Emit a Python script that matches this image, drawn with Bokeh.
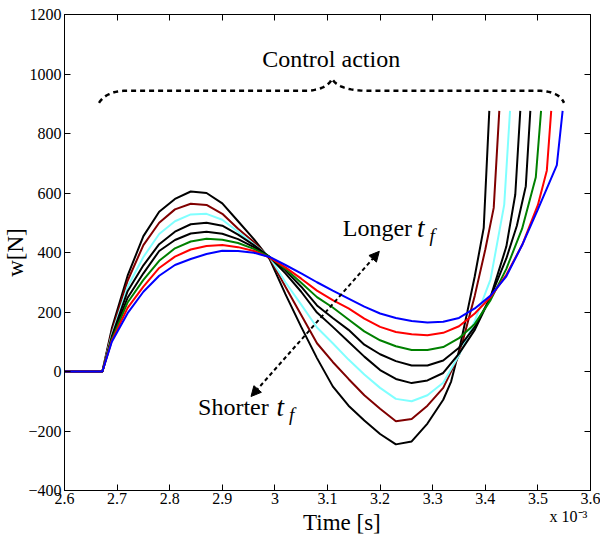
import numpy as np
from bokeh.plotting import figure
from bokeh.models import Range1d, LinearAxis, FixedTicker, Label, Arrow, NormalHead
from bokeh.embed import file_html
from bokeh.resources import INLINE

SERIF = "Liberation Serif"
NB = "\u00a0"

# ---- axes / ticks (x in units of 1e-3 s) ----
x_ticks = [2.6, 2.7, 2.8, 2.9, 3.0, 3.1, 3.2, 3.3, 3.4, 3.5, 3.6]
x_tick_labels = ["2.6", "2.7", "2.8", "2.9", "3", "3.1", "3.2", "3.3", "3.4", "3.5", "3.6"]
y_ticks = [-400, -200, 0, 200, 400, 600, 800, 1000, 1200]
y_tick_labels = ["\u2212400", "\u2212200", "0", "200", "400", "600", "800", "1000", "1200"]
x_label = NB * 5 + "Time [s]"
y_label = "w[N]"
x_scale_pos = [3.558]
x_scale_text = ["x 10\u207b\u00b3"]

# ---- data: shared time grid (ms) then per-curve tails ----
t_common = [2.60, 2.672, 2.69, 2.72, 2.75, 2.78, 2.81, 2.84, 2.87, 2.90, 2.93, 2.96,
            2.99, 3.02, 3.05, 3.08, 3.11, 3.14, 3.17, 3.20, 3.23, 3.26, 3.29, 3.32]

w_c1 = [0, 0, 145, 322, 455, 537, 580, 605, 600, 565, 505, 445,
        378, 260, 150, 45, -50, -115, -165, -210, -245, -235, -175, -95]
tail_t_c1 = [3.335, 3.35, 3.366, 3.38, 3.397, 3.4076]
tail_w_c1 = [-34, 70, 202, 320, 483, 876]

w_c2 = [0, 0, 135, 305, 425, 500, 545, 564, 560, 530, 480, 435,
        382, 285, 190, 95, 32, -25, -80, -125, -167, -160, -115, -55]
tail_t_c2 = [3.35, 3.38, 3.40, 3.416, 3.4266]
tail_w_c2 = [55, 255, 410, 550, 876]

w_c3 = [0, 0, 125, 285, 385, 462, 505, 528, 530, 510, 470, 428,
        385, 300, 225, 148, 95, 40, -10, -55, -92, -100, -80, -38]
tail_t_c3 = [3.35, 3.38, 3.41, 3.436, 3.447]
tail_w_c3 = [55, 170, 310, 561, 876]

w_c4 = [0, 0, 118, 270, 357, 428, 470, 495, 500, 490, 460, 425,
        385, 330, 268, 198, 150, 100, 50, 5, -25, -39, -30, -5]
tail_t_c4 = [3.35, 3.38, 3.41, 3.44, 3.457, 3.4665]
tail_w_c4 = [60, 140, 250, 420, 595, 876]

w_c5 = [0, 0, 112, 248, 330, 405, 442, 464, 470, 463, 445, 418,
        385, 340, 285, 222, 180, 140, 90, 58, 35, 20, 20, 37]
tail_t_c5 = [3.35, 3.38, 3.41, 3.44, 3.46, 3.477, 3.4856]
tail_w_c5 = [80, 150, 250, 380, 490, 623, 876]

w_c6 = [0, 0, 108, 232, 308, 372, 414, 437, 446, 443, 432, 412,
        385, 345, 298, 250, 215, 175, 135, 105, 85, 72, 72, 82]
tail_t_c6 = [3.35, 3.38, 3.41, 3.44, 3.47, 3.496, 3.506]
tail_w_c6 = [112, 160, 240, 345, 480, 653, 876]

w_c7 = [0, 0, 104, 214, 285, 348, 386, 410, 422, 425, 418, 405,
        383, 350, 312, 272, 240, 212, 178, 150, 133, 125, 122, 130]
tail_t_c7 = [3.35, 3.38, 3.41, 3.44, 3.47, 3.50, 3.517, 3.5253]
tail_w_c7 = [152, 195, 250, 325, 425, 560, 676, 876]

w_c8 = [0, 0, 100, 196, 268, 322, 358, 378, 395, 406, 405, 399,
        385, 358, 330, 300, 272, 245, 218, 195, 180, 170, 165, 167]
tail_t_c8 = [3.35, 3.38, 3.41, 3.44, 3.47, 3.50, 3.536, 3.547]
tail_w_c8 = [180, 212, 255, 320, 425, 545, 694, 876]

colors = ["#000000", "#800000", "#80ffff", "#000000", "#000000", "#008000", "#ff0000", "#0000ff"]

curves = [
    (w_c1, tail_t_c1, tail_w_c1),
    (w_c2, tail_t_c2, tail_w_c2),
    (w_c3, tail_t_c3, tail_w_c3),
    (w_c4, tail_t_c4, tail_w_c4),
    (w_c5, tail_t_c5, tail_w_c5),
    (w_c6, tail_t_c6, tail_w_c6),
    (w_c7, tail_t_c7, tail_w_c7),
    (w_c8, tail_t_c8, tail_w_c8),
]

p = figure(width=600, height=538,
           x_range=Range1d(2.6, 3.6), y_range=Range1d(-400, 1200),
           output_backend="svg", toolbar_location=None,
           min_border_left=64, min_border_right=10,
           min_border_top=14, min_border_bottom=48)
p.background_fill_color = "white"
p.border_fill_color = "white"
p.outline_line_color = "black"
p.outline_line_width = 1
p.xgrid.visible = False
p.ygrid.visible = False

p.add_layout(LinearAxis(), "right")
p.add_layout(LinearAxis(), "above")
sec = LinearAxis()
p.add_layout(sec, "below")

for ax in p.xaxis:
    ax.ticker = FixedTicker(ticks=x_ticks)
    ax.major_label_overrides = dict(zip(x_ticks, x_tick_labels))
for ax in p.yaxis:
    ax.ticker = FixedTicker(ticks=y_ticks)
    ax.major_label_overrides = dict(zip(y_ticks, y_tick_labels))

for ax in p.axis:
    ax.major_tick_in = 6
    ax.major_tick_out = 0
    ax.minor_tick_line_color = None
    ax.axis_line_color = "black"
    ax.major_tick_line_color = "black"
    ax.major_label_text_font = SERIF
    ax.major_label_text_font_size = "16px"
    ax.major_label_text_color = "black"
    ax.axis_label_text_font = SERIF
    ax.axis_label_text_font_size = "23px"
    ax.axis_label_text_font_style = "normal"
    ax.axis_label_text_color = "black"

for ax in [p.right[0], p.above[0]]:
    ax.major_label_text_font_size = "1px"
    ax.major_label_text_color = None
    ax.major_label_standoff = 0

# primary bottom axis: tick labels only
p.below[0].major_label_standoff = 2

# secondary bottom axis: exponent note + axis title, no line / ticks
sec.ticker = FixedTicker(ticks=x_scale_pos)
sec.major_label_overrides = dict(zip(x_scale_pos, x_scale_text))
sec.axis_line_color = None
sec.major_tick_line_color = None
sec.major_tick_in = 0
sec.major_label_text_font_size = "16px"
sec.major_label_standoff = 1
sec.axis_label = x_label
sec.axis_label_standoff = -18

ly_ax = p.left[0]
ly_ax.major_label_standoff = 3
ly_ax.axis_label = y_label
ly_ax.axis_label_standoff = -3

for (w, tt, tw), c in zip(curves, colors):
    p.line(t_common + tt, w + tw, line_color=c, line_width=2)

# ---- dashed curly brace ("Control action") ----
def quad(p0, c, p1, n=20):
    s = np.linspace(0, 1, n)
    x = (1 - s) ** 2 * p0[0] + 2 * (1 - s) * s * c[0] + s ** 2 * p1[0]
    y = (1 - s) ** 2 * p0[1] + 2 * (1 - s) * s * c[1] + s ** 2 * p1[1]
    return list(x), list(y)

bx, by = [], []
for seg in [((2.6656, 903), (2.68, 944), (2.7207, 944)),
            ((2.7207, 944), (2.90, 944), (3.0648, 944)),
            ((3.0648, 944), (3.10, 950), (3.1086, 984)),
            ((3.1086, 984), (3.12, 948), (3.1675, 944)),
            ((3.1675, 944), (3.33, 944), (3.4964, 944)),
            ((3.4964, 944), (3.54, 944), (3.5496, 903))]:
    x, y = quad(*seg)
    bx += x
    by += y
p.line(bx, by, line_color="black", line_width=2.5, line_dash="5 4")

# ---- double dashed arrow ----
p.add_layout(Arrow(x_start=2.9546, y_start=-84, x_end=3.1985, y_end=404,
                   start=NormalHead(size=10, fill_color="black", line_color="black"),
                   end=NormalHead(size=10, fill_color="black", line_color="black"),
                   line_color="black", line_width=2, line_dash="4 3"))

def lab(x, y, text, size="24px", style="normal", align="left", baseline="alphabetic"):
    p.add_layout(Label(x=x, y=y, text=text, text_font=SERIF, text_font_size=size,
                       text_font_style=style, text_align=align, text_baseline=baseline,
                       text_color="black"))

lab(3.107, 1050, "Control action", align="center")
lab(3.129, 483, "Longer")
lab(3.270, 483, "t", size="27px", style="italic")
lab(3.294, 458, "f", size="19px", style="italic")
lab(2.854, -120, "Shorter")
lab(3.003, -120, "t", size="27px", style="italic")
lab(3.027, -145, "f", size="19px", style="italic")

open("out.html", "w").write(file_html(p, INLINE))
